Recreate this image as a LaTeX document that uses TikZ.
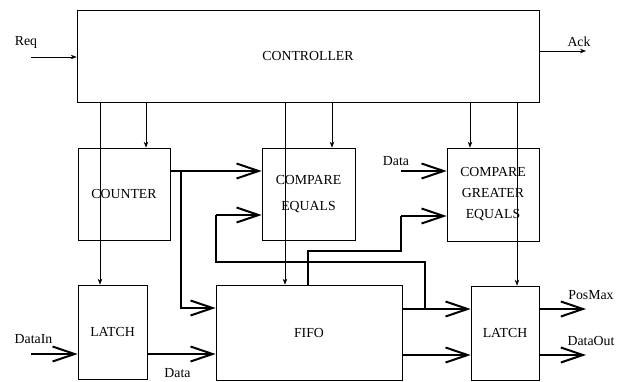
\documentclass[tikz,border=0pt]{standalone}
\usepackage{fontspec}
\setmainfont{Liberation Serif}
\usetikzlibrary{arrows.meta}
\begin{document}
\begin{tikzpicture}[x=1pt,y=-1pt,every node/.style={font=\fontsize{13.8}{15}\selectfont},
    blk/.style={draw,line width=.7pt,inner sep=0pt,align=center},
    ctl/.style={line width=.6pt,-{Stealth[length=6pt,width=4.5pt]}},
    bus/.style={line width=2.2pt,-{Straight Barb[length=22pt,width=15pt,line width=2pt]}},
    wire/.style={line width=2.2pt,line join=miter}]
    \useasboundingbox (0,0) rectangle (624,381);
    % blocks
    \node[blk,minimum width=462pt,minimum height=92pt] (ctrl) at (308,56) {CONTROLLER};
    \node[blk,minimum width=92pt,minimum height=92pt] (counter) at (124,194) {COUNTER};
    \node[blk,minimum width=93pt,minimum height=92pt] (compeq) at (308.5,194) {COMPARE\\[11pt]EQUALS};
    \node[blk,minimum width=92pt,minimum height=93pt] (compge) at (493,194.5) {COMPARE\\[6pt]GREATER\\[6pt]EQUALS};
    \node[blk,minimum width=69pt,minimum height=94pt] (latchin) at (112.5,332) {LATCH};
    \node[blk,minimum width=186pt,minimum height=95pt] (fifo) at (309,332.5) {FIFO};
    \node[blk,minimum width=68pt,minimum height=94pt] (latchout) at (505,333) {LATCH};
    % labels
    \node (req) at (26,42) {Req};
    \node (ack) at (579,42) {Ack};
    \node (datagt) at (396,161) {Data};
    \node (datain) at (33.5,339) {DataIn};
    \node (datalt) at (177.5,373) {Data};
    \node (posmax) at (591,295) {PosMax};
    \node (dataout) at (591,341) {DataOut};
    \coordinate (reqin) at (31,57);
    \coordinate (ackout) at (586,51);
    \coordinate (datagtin) at (401,171);
    % control lines
    \draw[ctl] (reqin) -- (ctrl.west |- reqin);
    \draw[ctl] (ctrl.east |- ackout) -- (ackout);
    \foreach \xx/\dst in {100/latchin,146/counter,285/fifo,332/compeq,470/compge,517/latchout} {
        \draw[ctl] (\xx,0 |- ctrl.south) -- (\xx,0 |- \dst.north);
    }
    % data paths
    \draw[bus] (datagtin) -- (compge.west |- datagtin);
    \draw[bus] (counter.east |- 0,171) -- (compeq.west |- 0,171);
    \draw[bus] (181,171) |- (fifo.west |- 0,308);
    \draw[bus] (31,354) -- (latchin.west |- 0,354);
    \draw[bus] (latchin.east |- 0,354) -- (fifo.west |- 0,354);
    \draw[bus] (fifo.east |- 0,309) -- (latchout.west |- 0,309);
    \draw[bus] (fifo.east |- 0,355) -- (latchout.west |- 0,355);
    \draw[bus] (latchout.east |- 0,309) -- (586,309);
    \draw[bus] (latchout.east |- 0,355) -- (586,355);
    \draw[wire] (425,309) -- (425,262) -- (216,262) -- (216,215);
    \draw[bus] (216,215) -- (compeq.west |- 0,215);
    \draw[wire] (308,0 |- fifo.north) -- (308,251) -- (401,251) -- (401,216);
    \draw[bus] (401,216) -- (compge.west |- 0,216);
\end{tikzpicture}
\end{document}
